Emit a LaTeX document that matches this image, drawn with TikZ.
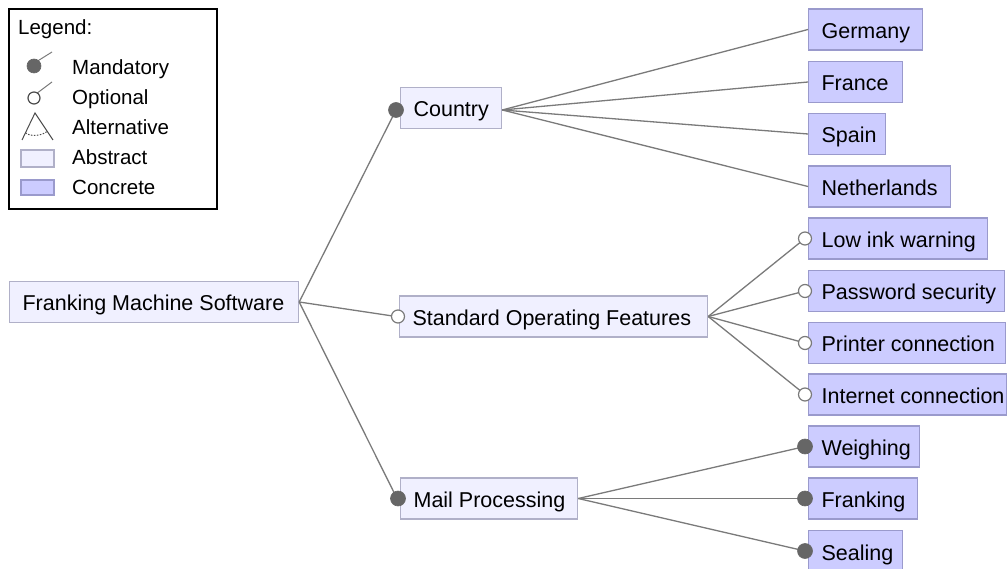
\documentclass[tikz,border=0pt]{standalone}
\usepackage{fontspec}
\setmainfont{Liberation Sans}
\definecolor{absfill}{HTML}{F0F0FF}
\definecolor{absdraw}{HTML}{B0B0C8}
\definecolor{confill}{HTML}{CCCCFF}
\definecolor{condraw}{HTML}{9A9ACC}
\definecolor{linkgray}{HTML}{7A7A7A}
\definecolor{dotgray}{HTML}{666666}
% label text inside a feature box: fixed box width, text 13pt from the left edge
\newcommand\ftxt[2]{\makebox[#1pt][l]{\hspace{13pt}#2}}
\begin{document}
\begin{tikzpicture}[x=1pt,y=-1pt,
  feat/.style={line width=1.2pt, inner xsep=0pt, inner ysep=0pt,
    minimum height=41pt, text height=22pt, text depth=4pt, anchor=west,
    font=\fontsize{21.5}{24}\selectfont},
  abstract/.style={feat, draw=absdraw, fill=absfill},
  concrete/.style={feat, draw=condraw, fill=confill},
  link/.style={draw=linkgray, line width=1.3pt},
  mand/.style={circle, fill=dotgray, draw=dotgray, line width=0.6pt,
    minimum size=15pt, inner sep=0pt},
  opt/.style={circle, fill=white, draw=linkgray, line width=1.2pt,
    minimum size=13pt, inner sep=0pt},
  legtext/.style={anchor=base west, inner sep=0pt,
    font=\fontsize{20.5}{24}\selectfont},
]
\useasboundingbox (0,0) rectangle (1007,569);

% ---------- legend ----------
\draw[black, line width=1.5pt] (9,9) rectangle (217,209);
\node[legtext] (legtitle) at (18,35) {Legend:};
\node[legtext] (legmand) at (72,75) {Mandatory};
\node[legtext] (legopt) at (72,105) {Optional};
\node[legtext] (legalt) at (72,135) {Alternative};
\node[legtext] (legabs) at (72,165) {Abstract};
\node[legtext] (legcon) at (72,195) {Concrete};
% mandatory symbol
\draw[link, line width=1pt] (36,62) -- (52,52);
\node[mand, minimum size=14pt] (symmand) at (34,66) {};
% optional symbol
\draw[link, line width=1pt] (36,94) -- (52,82);
\node[opt, minimum size=12pt, draw=black!70] (symopt) at (34,98) {};
% alternative symbol
\draw[black!70, line width=1pt] (22,140) -- (35,113) -- (53,140);
\draw[black!70, line width=1pt, dash pattern=on 1.5pt off 1.5pt]
  (25.5,132.8) .. controls (30,137) and (42,136) .. (47.2,131.3);
% abstract / concrete swatches
\draw[draw=absdraw, fill=absfill, line width=1.2pt] (21,150) rectangle (54,167);
\draw[draw=condraw, fill=confill, line width=1.2pt] (21,180) rectangle (54,195);

% ---------- feature boxes ----------
\node[abstract] (root) at (9,302) {\ftxt{289}{Franking Machine Software}};
\node[abstract] (country) at (400,108) {\ftxt{101}{Country}};
\node[abstract] (sof) at (399,316.5) {\ftxt{308}{Standard Operating Features}};
\node[abstract] (mail) at (400,498.5) {\ftxt{177}{Mail Processing}};

\node[concrete] (germany) at (808,29.5) {\ftxt{114}{Germany}};
\node[concrete] (france) at (808,82) {\ftxt{94}{France}};
\node[concrete] (spain) at (808,134) {\ftxt{77}{Spain}};
\node[concrete] (nl) at (808,186.5) {\ftxt{142}{Netherlands}};

\node[concrete] (lowink) at (808,238.5) {\ftxt{179}{Low ink warning}};
\node[concrete] (pwd) at (808,291) {\ftxt{196}{Password security}};
\node[concrete] (printer) at (808,343) {\ftxt{197}{Printer connection}};
\node[concrete] (internet) at (808,394.5) {\ftxt{198}{Internet connection}};

\node[concrete] (weigh) at (808,446.5) {\ftxt{111}{Weighing}};
\node[concrete] (frank) at (808,498.5) {\ftxt{109}{Franking}};
\node[concrete] (seal) at (808,551) {\ftxt{94}{Sealing}};

% ---------- connectors ----------
\foreach \c in {country,sof,mail}
  \draw[link] (root.east) -- ([xshift=-3pt]\c.west);
\foreach \c in {germany,france,spain,nl}
  \draw[link] ([yshift=-2pt]country.east) -- (\c.west);
\foreach \c in {lowink,pwd,printer,internet}
  \draw[link] (sof.east) -- ([xshift=-3pt]\c.west);
\foreach \c in {weigh,frank,seal}
  \draw[link] (mail.east) -- ([xshift=-3pt]\c.west);

% ---------- group markers ----------
\node[mand] (m-country) at ([xshift=-4pt,yshift=-2pt]country.west) {};
\node[opt] (o-sof) at ([xshift=-1pt]sof.west) {};
\node[mand] (m-mail) at ([xshift=-2pt]mail.west) {};
\foreach \c in {lowink,pwd,printer,internet}
  \node[opt] (o-\c) at ([xshift=-3pt]\c.west) {};
\foreach \c in {weigh,frank,seal}
  \node[mand] (m-\c) at ([xshift=-3pt]\c.west) {};
\end{tikzpicture}
\end{document}
